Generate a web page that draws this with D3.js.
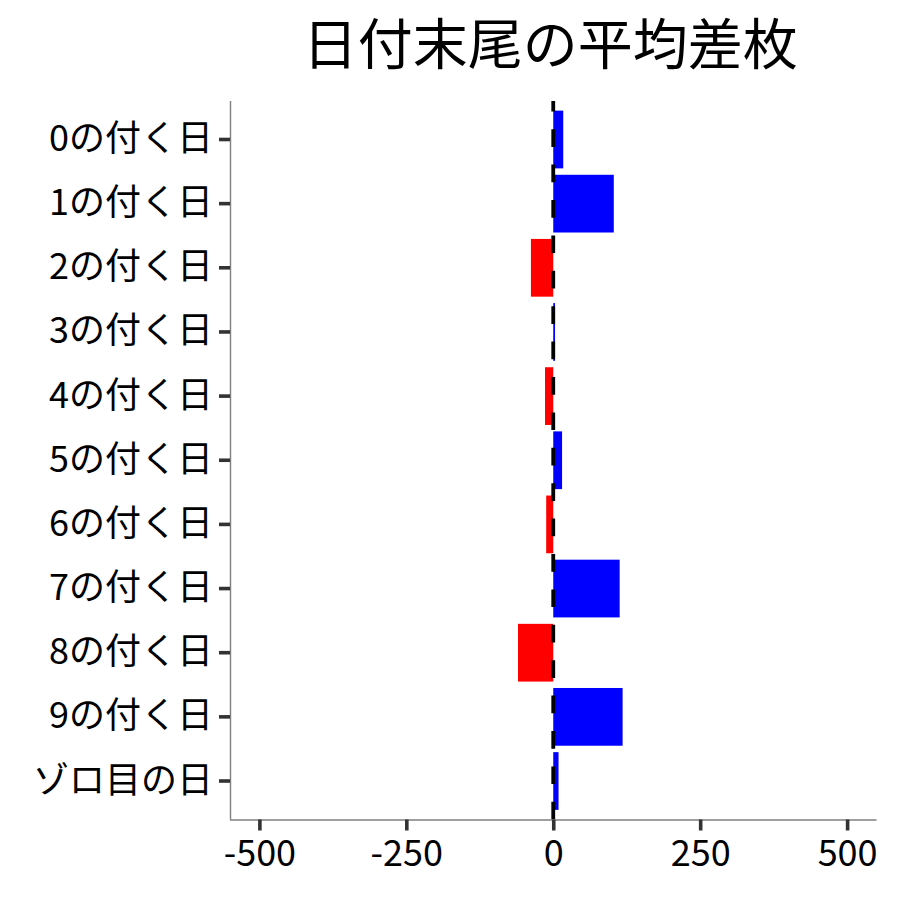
<!DOCTYPE html>
<html><head><meta charset="utf-8">
<script src="https://cdn.jsdelivr.net/npm/d3@7"></script>
<style>body{margin:0;background:#fff}svg{display:block}</style>
</head><body>
<svg id="c" width="900" height="900"></svg>
<script>
const title = "日付末尾の平均差枚";
const categories = ["0の付く日","1の付く日","2の付く日","3の付く日","4の付く日","5の付く日","6の付く日","7の付く日","8の付く日","9の付く日","ゾロ目の日"];
const values = [17, 103, -38, 3, -14, 15, -12, 113, -60, 118, 9];
const xTicks = [-500, -250, 0, 250, 500];
const xTickLabels = ["-500", "-250", "0", "250", "500"];
const posColor = "#0000FF", negColor = "#FF0000";

const font = "'Noto Sans CJK JP','Noto Sans CJK SC',sans-serif";
const svg = d3.select("#c");
const L = 230, R = 876.5, T = 101, B = 819.5;

const x = d3.scaleLinear().domain([-550, 550]).range([L, R]);
const y = d3.scaleBand().domain(categories).range([T, B]).paddingInner(0.1).paddingOuter(0.15);

svg.selectAll("rect.bar").data(categories).join("rect").attr("class","bar")
  .attr("x", (d,i) => x(Math.min(0, values[i])))
  .attr("width", (d,i) => Math.abs(x(values[i]) - x(0)))
  .attr("y", d => y(d))
  .attr("height", y.bandwidth())
  .attr("fill", (d,i) => values[i] >= 0 ? posColor : negColor);

svg.append("line")
  .attr("x1", x(0)).attr("x2", x(0)).attr("y1", B).attr("y2", T)
  .attr("stroke", "#000").attr("stroke-width", 3.8)
  .attr("stroke-dasharray", "17.7,17.7");

// axes
const xAxis = svg.append("g").attr("transform", `translate(0,${B})`)
  .call(d3.axisBottom(x).tickValues(xTicks).tickSize(11).tickPadding(8)
    .tickFormat((d, i) => xTickLabels[i]));
const yAxis = svg.append("g").attr("transform", `translate(${L},0)`)
  .call(d3.axisLeft(y).tickSize(11).tickPadding(6));
[xAxis, yAxis].forEach(g => {
  g.select(".domain").attr("stroke", "#7f7f7f").attr("stroke-width", 1.4);
  g.selectAll(".tick line").attr("stroke", "#333").attr("stroke-width", 3.6);
  g.selectAll(".tick text").attr("fill", "#000").style("font-family", font).style("font-size", "36px");
});
xAxis.selectAll(".tick text").attr("dy", "0.76em");
xAxis.select(".domain").attr("d", `M${L},0.5H${R}`);
yAxis.select(".domain").attr("d", `M0.5,${T}V${B}`);

svg.append("text").attr("x", (L + R) / 2 - 3).attr("y", 64)
  .attr("text-anchor", "middle").style("font-family", font).style("font-size", "55px")
  .attr("fill", "#000").text(title);
</script>
</body></html>
